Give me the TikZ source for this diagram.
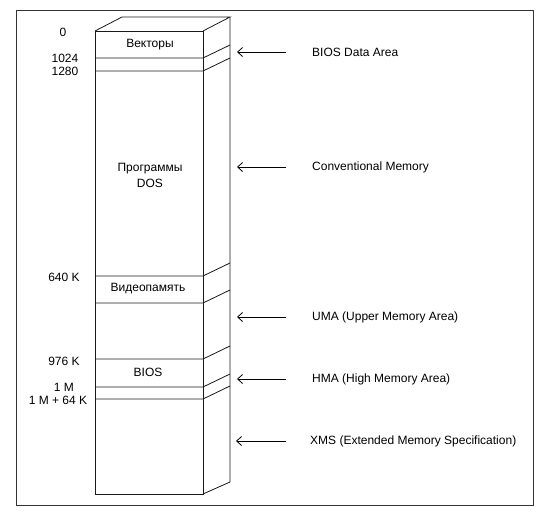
\documentclass[tikz,border=0pt]{standalone}
\usepackage{fontspec}
\setmainfont{Liberation Sans}
\usetikzlibrary{arrows.meta,positioning}
\tikzset{
  frameline/.style={line width=0.8pt,draw=black!80},
  memline/.style={line width=0.8pt,draw=black!90},
  addrnode/.style={font=\fontsize{12}{14}\selectfont,inner sep=0pt},
  blocknode/.style={font=\fontsize{12}{16}\selectfont,align=center,inner sep=0pt},
  areanode/.style={font=\fontsize{12}{14}\selectfont,anchor=west,inner sep=0pt},
  arr/.style={-{Straight Barb[length=5pt,width=9pt]},line width=0.8pt,shorten <=26pt}
}

\begin{document}
\begin{tikzpicture}[x=1pt,y=-1pt]
  \useasboundingbox (0,0) rectangle (550,517);
  \draw[frameline] (16,10) rectangle (533,505);

  % memory column
  \draw[memline] (95,31) rectangle (203,494);
  \draw[memline] (95,31) -- ++(27,-14) -- ++(108,0) -- ++(-27,14);
  \draw[memline] (230,17) -- (230,482) -- (203,494);
  \foreach \y in {58,71,276,303,359,387,399}
    \draw[memline] (95,\y) -- (203,\y) -- ++(27,-13);

  % blocks
  \node[blocknode] (vec) at (150,45) {Векторы};
  \node[blocknode] (dos) at (150,175) {Программы\\DOS};
  \node[blocknode] (video) at (148,289) {Видеопамять};
  \node[blocknode] (bios) at (148,372) {BIOS};

  % addresses
  \node[addrnode] (a0) at (63,32) {0};
  \node[addrnode] (a1024) at (65,58) {1024};
  \node[addrnode] (a1280) at (65,71) {1280};
  \node[addrnode] (a640) at (64,277) {640 K};
  \node[addrnode] (a976) at (64,361) {976 K};
  \node[addrnode] (a1m) at (64,387) {1 M};
  \node[addrnode] (a1m64) at (58,400) {1 M + 64 K};

  % areas
  \node[areanode] (bda) at (312,52) {BIOS Data Area};
  \node[areanode] (conv) at (312,167) {Conventional Memory};
  \node[areanode] (uma) at (312,317) {UMA (Upper Memory Area)};
  \node[areanode] (hma) at (312,379) {HMA (High Memory Area)};
  \node[areanode] (xms) at (310,441) {XMS (Extended Memory Specification)};

  \coordinate (bdaH) at (237,52);
  \coordinate (convH) at (237,167);
  \coordinate (umaH) at (237,317);
  \coordinate (hmaH) at (237,379);
  \coordinate (xmsH) at (236,441);

  \draw[arr] (bda.west) -- (bdaH);
  \draw[arr] (conv.west) -- (convH);
  \draw[arr] (uma.west) -- (umaH);
  \draw[arr] (hma.west) -- (hmaH);
  \draw[arr,shorten <=24pt] (xms.west) -- (xmsH);
\end{tikzpicture}
\end{document}
